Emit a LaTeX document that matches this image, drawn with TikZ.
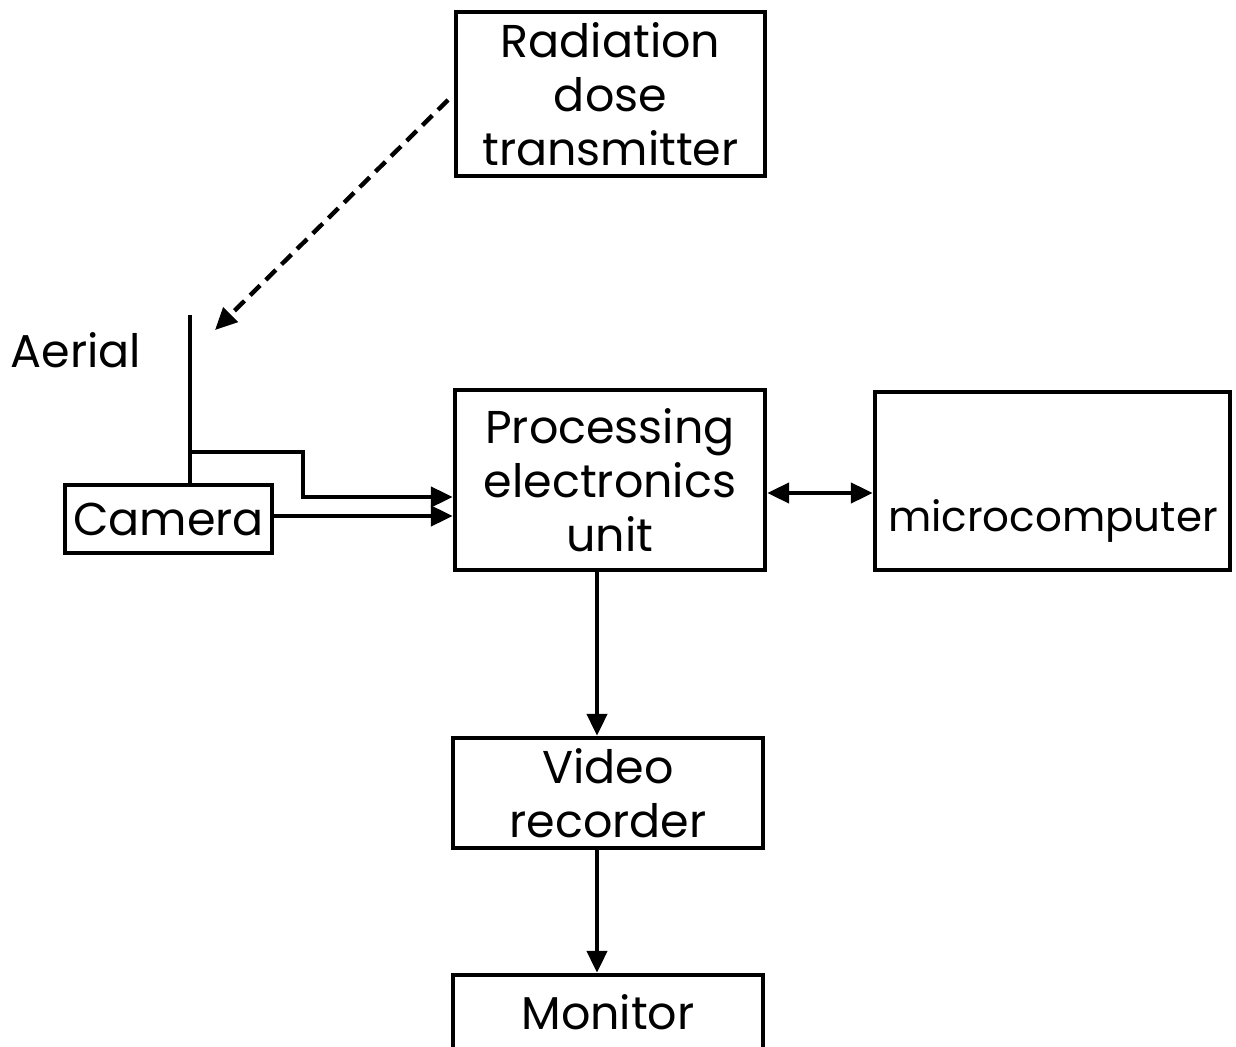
\documentclass[tikz,border=0pt]{standalone}
\usepackage{fontspec}
\setmainfont{Poppins}
\usetikzlibrary{arrows.meta,calc}
\begin{document}
\begin{tikzpicture}[x=0.5pt,y=-0.5pt,
  box/.style={draw,line width=2.2pt,inner sep=0pt,align=center,font=\fontsize{23}{27}\selectfont},
  txt/.style={inner sep=0pt,align=center,font=\fontsize{23}{27}\selectfont},
  conn/.style={line width=2.2pt},
  arr/.style={line width=2.2pt,-{Triangle[length=11pt,width=10pt]}},
  darr/.style={line width=2.2pt,{Triangle[length=11pt,width=10pt]}-{Triangle[length=11pt,width=10pt]}}]
\useasboundingbox (0,0) rectangle (1236,1047);
\node[box,minimum width=154.5pt,minimum height=82pt] (rad) at (610.5,94) {Radiation\\dose\\transmitter};
\node[box,minimum width=155pt,minimum height=90pt] (proc) at (610,480) {Processing\\electronics\\unit};
\node[box,minimum width=177.5pt,minimum height=89pt] (micro) at (1052.5,481) {};
\node[txt,font=\fontsize{21}{25}\selectfont] (microtxt) at (1053,521) {microcomputer};
\node[box,minimum width=103.5pt,minimum height=34pt] (cam) at (168.5,519) {Camera};
\node[box,minimum width=155pt,minimum height=55pt] (video) at (608,793) {Video\\recorder};
\node[box,minimum width=155pt,minimum height=37.5pt] (mon) at (608,1012.5) {Monitor};
\node[txt] (aerial) at (76,350) {Aerial};
\coordinate (atop) at (190,315);
\coordinate (abase) at (190,485);
\coordinate (branch) at (190,452);
\coordinate (dtip) at (215,330);
\coordinate (dstart) at (448,100);
\draw[conn] (atop) -- (abase);
\draw[arr] (branch) -| (303,497) -- (proc.west |- 303,497);
\draw[arr] (cam.east |- 0,516) -- (proc.west |- 0,516);
\draw[line width=2.2pt,dash pattern=on 7pt off 4pt,-{Triangle[length=11pt,width=10pt]}] (dstart) -- (dtip);
\draw[darr] (proc.east |- 0,493) -- (micro.west |- 0,493);
\draw[arr] (proc.south -| 597,0) -- (video.north -| 597,0);
\draw[arr] (video.south -| 597,0) -- (mon.north -| 597,0);
\end{tikzpicture}
\end{document}
